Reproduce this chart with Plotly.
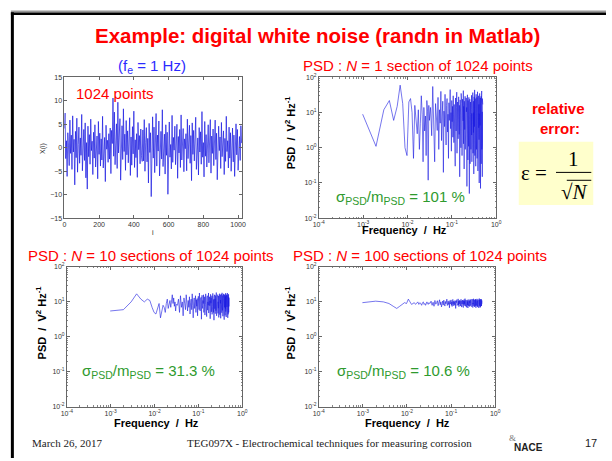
import plotly.graph_objects as go

# ---------------- data ----------------
x_step = 4
x_series = [
    4.1, 7.4, -2.3, 1.5, -6.1, 3.2, 0.4, -3.8, 5.9, -1.2, 2.7, -4.6, 6.8, -0.9, 1.8, -7.9,
    3.5, -2.1, 6.3, -5.2, 0.7, 4.4, -3.3, 2.1, -1.6, 7.1, -4.9, 0.2, 3.9, -2.7, 5.3, -6.4,
    1.1, -8.8, 4.6, -1.9, 2.8, -3.5, 6.1, -0.6, 1.4, -5.7, 3.3, -2.2, 4.9, -4.1, 0.8, 2.5,
    -6.6, 5.6, -1.4, 3.1, -3.9, 1.9, -2.6, 6.7, -4.3, 0.5, 2.2, -7.2, 4.8, -0.3, 1.6, -3.1,
    3.0, -2.4, 4.2, -5.5, 3.7, 0.9, 10.6, -1.8, 7.6, -3.6, 2.4, 5.1, -4.4, 9.7, -1.1, 3.4,
    6.2, -6.9, 1.3, 4.7, -2.5, 8.3, -0.8, 2.9, -4.8, 5.8, -1.5, 3.6, -3.2, 0.6, 6.4, -5.9,
    2.3, -3.7, 4.5, -1.3, 7.8, -4.2, 1.7, -2.1, 3.0, -6.3, 5.4, -0.4, 2.6, -3.4, 4.0, -1.7,
    -2.9, 3.8, -2.8, 6.0, -5.0, 1.2, 4.3, -3.0, 2.0, -7.5, 5.2, -1.0, 3.2, -10.4, 0.3, 6.6,
    -2.2, 4.4, -5.3, 1.0, 7.3, -3.9, 2.7, -0.7, 5.7, -6.0, 1.5, 3.5, -2.4, 8.1, -4.0, 0.1,
    2.9, -5.6, 4.9, -1.6, 3.3, -9.9, 1.8, 5.5, -2.0, 0.7, -4.5, 6.9, -3.1, 2.2, -0.5, 4.6,
    -3.6, 1.4, 5.0, -6.5, 2.4, -1.1, 3.9, -4.2, 7.0, -2.6, 0.9, 4.1, -5.1, 1.9, -0.2, 3.0,
    -4.9, 6.1, -2.3, 0.6, 4.8, -3.3, 2.6, -7.0, 5.3, -1.4, 3.7, -2.8, 1.3, 6.5, -4.6, 0.4,
    2.1, -5.8, 4.3, -0.9, 3.4, -3.5, 7.7, -2.0, 1.1, -6.2, 5.6, -1.8, 2.8, -4.1, 0.8, 4.9,
    -3.2, 1.6, 6.0, -5.4, 2.5, -1.2, 4.0, -3.8, 0.2, 5.9, -2.5, 3.1, -6.8, 1.7, 4.6, -0.6,
    2.3, -4.4, 5.4, -1.9, 0.9, 3.6, -5.7, 2.0, -2.9, 6.7, -0.8, 1.5, -4.3, 4.4, -2.2, 3.2,
    -5.0, 0.5, 4.2, -3.0, 2.7, -6.1, 1.2, 5.1, -1.5, 3.9, -4.8, 0.7, 2.4, -2.7, 4.7, 1.0,
]

n_points = 1024
psd_n1 = [
    9, 1.1, 12, 22, 6, 15, 60, 18, 1.0, 0.6, 20, 25, 10, 0.5, 16, 5,
    2.5, 12, 0.9, 5, 30, 9, 0.4, 14, 3, 8, 0.6, 22, 11, 0.12, 16, 6,
    14, 2.2, 55, 6, 0.4, 18, 9, 3.1, 27, 0.9, 12, 5, 40, 1.6, 8, 21, 0.2, 11,
    4, 33, 7, 1.2, 16, 25, 2.8, 9, 0.5, 19, 6, 13, 45, 3.5, 10, 0.8, 22, 5.5,
    15, 2, 30, 8, 1.4, 17, 4.5, 11, 0.3, 26, 7, 3, 14, 38, 0.7, 9, 20, 5,
    1.8, 12, 28, 6.5, 2.4, 16, 0.15, 10, 23, 4, 8.5, 1, 35, 13, 3.8, 18, 0.6, 7.5,
    24, 2.6, 11, 5.8, 42, 1.3, 15, 9.5, 0.25, 21, 6.8, 3.3, 12.5, 29, 0.9, 8, 17, 4.2,
    1.6, 26, 10.5, 2.1, 14, 0.08, 19, 7.2, 32, 3.6, 11.5, 0.45, 22, 5.2, 16.5, 1.1, 9, 27,
    2.9, 13, 0.05, 18, 6.2, 24, 3.9, 0.35, 15, 8.8, 20, 1.9,
    7, 0.9, 19, 4.4, 12, 31, 2.3, 9.5, 0.4, 16, 6, 24, 1.5, 11, 3.2, 37, 8, 0.7, 14, 5,
    21, 2.7, 10, 0.18, 17, 6.5, 28, 1.2, 13, 4, 44, 8.5, 0.6, 19, 3.4, 11, 25, 1.9, 7, 15,
    0.3, 22, 5.6, 9, 33, 2.2, 12, 0.9, 18, 6.3, 3, 27, 10, 0.5, 16, 4.8, 13, 39, 1.4, 8.2,
    20, 0.22, 11, 5.1, 24, 2.5, 14.5, 7.8, 0.8, 30, 3.7, 12, 17, 1.7, 9.3, 0.1, 23, 6, 15, 2,
    35, 8.6, 0.45, 13, 4.3, 19, 10, 1.1, 26, 5.4, 0.07, 16, 7.3, 22, 3.1, 11, 29, 1.6, 9, 0.35,
    18, 6.7, 14, 2.4, 41, 8, 0.9, 12, 4.6, 20, 1.3, 10.5, 0.15, 25, 5.9, 15.5, 3.3, 0.6, 17,
]
psd_n10 = [
    5.5, 6, 10, 17, 12, 10, 12, 11, 7, 5, 4.5, 7, 9, 3.5, 6, 8,
    7, 5, 9, 12, 6.5, 8, 11, 7, 12, 16, 9, 13, 7.5, 10, 5.5, 8.5,
    8, 12, 5, 15, 7, 10, 4, 13, 9, 6, 16, 8.5, 5.5, 11, 7, 14, 4.5, 9.5,
    12, 6, 17, 8, 3.5, 10.5, 13, 6.5, 9, 15, 5, 11.5, 7.5, 12.5, 4, 10, 14.5, 8,
    6, 18, 9, 5.5, 12, 7, 13.5, 3.2, 10, 15.5, 8, 6.5, 11, 9, 16, 5, 12, 7.5,
    14, 4.2, 10.5, 8.5, 17, 6, 11, 9.5, 3.8, 13, 7, 15, 5.8, 10, 12.5, 8, 18, 4.8,
    11.5, 9, 6.2, 14, 7.8, 10.8, 3.3, 12, 16.5, 6.8, 9.2, 13.2, 5.2, 11, 8.2, 15, 4.4, 10.2,
    12.8, 7.2, 17.5, 6, 9.8, 14.2, 5, 11.8, 8.8, 3, 13.8, 7, 10.4, 16, 6.4, 12.2, 9, 4.6,
    15.2, 8, 11.2, 5.6, 13.4, 7.4, 18.5, 9.6, 4, 12.6, 8.4, 10,
    9.4, 13, 5.3, 11.6, 7.9, 16.2, 4.7, 10.1, 12.9, 6.6, 14.8, 8.3, 3.6, 11.9, 9.7, 15.6, 5.9, 12.4, 7.1, 17.2,
    8.9, 4.3, 13.6, 10.6, 6.3, 15.9, 9.1, 11.3, 3.4, 14.1, 7.7, 12.7, 5.1, 16.8, 8.6, 10.9, 6.9, 13.3, 4.9, 11.4,
    18.2, 7.3, 9.9, 14.6, 5.7, 12.1, 8.1, 15.3, 3.9, 10.7, 13.9, 6.1, 11.7, 9.3, 17, 4.5, 12.3, 8.7, 14.9, 6.7,
    10.3, 3.1, 15.8, 9.2, 11.1, 7, 13.1, 5.4, 16.4, 8.4, 12, 4.1, 10.8, 14.4, 6.4, 11.5, 9.6, 17.8, 5.3, 12.9,
    7.6, 10, 15.1, 3.7, 13.7, 8.9, 11, 6, 16.1, 9.4, 4.8, 12.5, 7.2, 14.7, 10.4, 5.5, 13.2, 8.5, 18, 6.6,
    11.3, 9, 3.5, 15.4, 7.9, 12.2, 10.1, 4.4, 14.3, 8.3, 11.7, 6.2, 16.6, 9.8, 5, 13.5, 7.4, 10.6, 12.8,
]
psd_n100 = [
    9.5, 10.5, 10, 9, 7.5, 6.5, 7.5, 8.5, 9.5, 9, 12, 10, 8.5, 9, 9.5, 8.5,
    9, 10, 8.5, 9.5, 9, 8, 9.5, 10, 8.5, 9, 8, 9.5, 10, 9, 8.5, 9.5,
    9, 10.5, 8, 9.8, 7.5, 11, 8.6, 9.4, 10.8, 7.8, 9.2, 11.5, 8.3, 10, 7.2, 9.6, 10.6, 8.1,
    11.2, 9, 7.6, 10.3, 8.8, 9.9, 12, 7.9, 9.3, 10.7, 8.4, 9.7, 6.8, 10.9, 8.7, 9.5, 11.4, 8,
    10.1, 7.4, 9.1, 11.8, 8.5, 10.4, 7.7, 9.8, 10.2, 8.2, 11, 9.4, 6.5, 10.6, 8.9, 9.6, 11.6, 7.9,
    10, 8.6, 9.2, 12.2, 8.1, 10.5, 7.3, 9.7, 11.1, 8.8, 9.3, 10.8, 7.6, 10.3, 9, 11.9, 8.3, 9.9,
    7.1, 10.7, 8.7, 9.5, 11.3, 8, 10.1, 9.4, 6.9, 10.9, 8.5, 9.8, 11.7, 7.8, 10.4, 8.9, 9.1, 12.4,
    8.2, 10.2, 7.5, 9.6, 11.2, 8.6, 10, 9.3, 7, 10.6, 8.4, 9.7, 11.5, 8.1, 10.3, 9.2, 6.7, 11,
    8.8, 9.9, 10.5, 7.7, 9.4, 11.8, 8.3, 10.1, 9, 7.4, 10.8, 9.5,
    9.2, 10.7, 8.4, 11.3, 7.8, 9.9, 10.4, 8.7, 12.1, 9.5, 7.3, 10.2, 8.9, 11.6, 9.1, 7.9, 10.8, 8.5, 9.7, 11.9,
    8.2, 10.3, 6.9, 9.4, 11.1, 8.6, 10, 9.3, 12.3, 8, 10.6, 7.6, 9.8, 11.4, 8.8, 10.1, 9, 7.2, 10.9, 8.3,
    11.7, 9.6, 8.1, 10.5, 7.7, 9.2, 12, 8.7, 10.2, 9.4, 6.8, 11.2, 8.5, 9.9, 10.7, 7.9, 11.5, 9.1, 8.4, 10.4,
    12.2, 8.9, 9.6, 7.5, 10.8, 8.2, 11, 9.3, 7.1, 10.1, 8.8, 11.8, 9.7, 8, 10.6, 7.4, 9.5, 11.3, 8.6, 10.3,
    9, 6.7, 11.1, 8.3, 10, 9.8, 12.5, 7.8, 10.5, 8.7, 9.2, 11.6, 8.1, 10.9, 7.3, 9.4, 11.4, 8.5, 10.2, 9.1,
    7, 10.7, 8.9, 12.1, 9.6, 8.2, 11.2, 7.7, 10.4, 9.3, 8.6, 11.9, 9, 7.6, 10.8, 8.4, 9.9, 11, 8.8,
]

time_ticks = [0, 200, 400, 600, 800, 1000]
time_yticks = [-15, -10, -5, 0, 5, 10, 15]
freq_ticks = [1e-4, 1e-3, 1e-2, 1e-1, 1]
freq_ticklabels = ['10<sup>-4</sup>', '10<sup>-3</sup>', '10<sup>-2</sup>', '10<sup>-1</sup>', '10<sup>0</sup>']
psd_ticks = [1e-2, 1e-1, 1, 10, 100]
psd_ticklabels = ['10<sup>-2</sup>', '10<sup>-1</sup>', '10<sup>0</sup>', '10<sup>1</sup>', '10<sup>2</sup>']


def freq_grid(vals):
    ks = list(range(1, 33)) + [34 + 2 * j for j in range(len(vals) - 32)]
    return [k / n_points for k in ks]


# ---------------- figure ----------------
W, H = 612, 461


def px(x):
    return x / W


def py(y):
    return 1 - y / H


LINE = 'rgb(25,25,225)'
fig = go.Figure()
fig.add_trace(go.Scatter(x=[i * x_step for i in range(len(x_series))], y=x_series,
                         mode='lines', line=dict(color=LINE, width=0.7),
                         xaxis='x', yaxis='y', showlegend=False))
for psd, ax in [(psd_n1, '2'), (psd_n10, '3'), (psd_n100, '4')]:
    fig.add_trace(go.Scatter(x=freq_grid(psd), y=psd, mode='lines',
                             line=dict(color=LINE, width=0.6),
                             xaxis='x' + ax, yaxis='y' + ax, showlegend=False))

base = dict(showline=True, linecolor='#666', linewidth=0.6, mirror='ticks',
            ticks='inside', ticklen=3, tickcolor='#666', showgrid=False,
            zeroline=False, tickfont=dict(family='Arial', size=7, color='#333'))
minor = dict(ticks='inside', ticklen=1.5, tickcolor='#888', dtick='D1')


def logx(dom, anchor):
    return dict(base, type='log', range=[-4, 0], tickvals=freq_ticks, ticktext=freq_ticklabels,
                domain=dom, anchor=anchor, minor=minor)


def logy(dom, anchor):
    return dict(base, type='log', range=[-2, 2], tickvals=psd_ticks, ticktext=psd_ticklabels,
                domain=dom, anchor=anchor, minor=minor)


row1 = [py(217.5), py(74.5)]
row2 = [py(409), py(267)]

fig.update_layout(
    width=W, height=H, margin=dict(l=0, r=0, t=0, b=0),
    paper_bgcolor='white', plot_bgcolor='white',
    xaxis=dict(base, domain=[px(59.5), px(241)], range=[0, 1024], tickvals=time_ticks, anchor='y'),
    yaxis=dict(base, domain=row1, range=[-15, 15], tickvals=time_yticks, anchor='x'),
    xaxis2=logx([px(319), px(500)], 'y2'), yaxis2=logy(row1, 'x2'),
    xaxis3=logx([px(62), px(241)], 'y3'), yaxis3=logy(row2, 'x3'),
    xaxis4=logx([px(319), px(499)], 'y4'), yaxis4=logy(row2, 'x4'),
)

anns = []


def txt(x, y, s, size, color='black', family='Arial', bold=False, angle=0, xanchor='center'):
    if bold:
        s = '<b>' + s + '</b>'
    anns.append(dict(x=px(x), y=py(y), xref='paper', yref='paper', text=s, showarrow=False,
                     font=dict(family=family, size=size, color=color), textangle=angle,
                     xanchor=xanchor, yanchor='middle'))


RED = '#FF0000'
GREEN = '#2E9A2E'
BLUE = '#2B2BFF'
txt(318, 32, 'Example: digital white noise (randn in Matlab)', 20.5, RED, bold=True)
txt(149, 63, '(f<sub>e</sub> = 1 Hz)', 15, BLUE)
txt(111, 91, '1024 points', 15, RED)
txt(420, 62, 'PSD : <i>N</i> = 1 section of 1024 points', 15, RED)
txt(148, 255, 'PSD : <i>N</i> = 10 sections of 1024 points', 15, RED)
txt(422, 255, 'PSD : <i>N</i> = 100 sections of 1024 points', 15, RED)
txt(402, 196, 'σ<sub>PSD</sub>/m<sub>PSD</sub> = 101 %', 15, GREEN)
txt(145, 373, 'σ<sub>PSD</sub>/m<sub>PSD</sub> = 31.3 %', 15, GREEN)
txt(405, 373, 'σ<sub>PSD</sub>/m<sub>PSD</sub> = 10.6 %', 15, GREEN)
# axis labels
txt(38, 147, 'X(i)', 7, '#222', angle=-90)
txt(150, 232, 'i', 7, '#222')
for (x, y) in [(290, 130), (36, 323), (290, 323)]:
    txt(x, y, 'PSD  /  V<sup>2</sup> Hz<sup>-1</sup>', 11, 'black', bold=True, angle=-90)
for (x, y) in [(406, 229), (154, 425), (410, 425)]:
    txt(x, y, 'Frequency  /  Hz', 11, 'black', bold=True)
# relative error box
txt(564, 106, 'relative', 15, RED, bold=True)
txt(565, 126, 'error:', 15, RED, bold=True)
txt(539, 172, 'ε =', 21, 'black', family='Liberation Serif')
txt(579, 157, '1', 21, 'black', family='Liberation Serif')
txt(580, 191, '√<i>N</i>', 21, 'black', family='Liberation Serif')
# footer
txt(62, 446, 'March 26, 2017', 11, '#222', family='Liberation Serif')
txt(330, 446, 'TEG097X - Electrochemical techniques for measuring corrosion', 11, '#222',
    family='Liberation Serif')
txt(533, 450, 'NACE', 10, '#222', bold=True)
txt(517, 441, '&', 9, '#777', family='Liberation Serif')
txt(597, 446, '17', 11, '#222')

shapes = [
    dict(type='line', xref='paper', yref='paper', x0=px(5), x1=1, y0=py(7.5), y1=py(7.5),
         line=dict(color='#999', width=2)),
    dict(type='line', xref='paper', yref='paper', x0=px(5), x1=1, y0=py(10), y1=py(10),
         line=dict(color='black', width=2.5)),
    dict(type='line', xref='paper', yref='paper', x0=px(6.5), x1=px(6.5), y0=py(8.5), y1=0,
         line=dict(color='black', width=3)),
    dict(type='rect', xref='paper', yref='paper', x0=px(523), x1=px(599), y0=py(204), y1=py(140),
         fillcolor='#FFFFCC', line=dict(width=0), layer='below'),
    dict(type='line', xref='paper', yref='paper', x0=px(561), x1=px(597), y0=py(171), y1=py(171),
         line=dict(color='black', width=1)),
    dict(type='line', xref='paper', yref='paper', x0=px(572), x1=px(597), y0=py(179), y1=py(179),
         line=dict(color='black', width=1)),
]
fig.update_layout(annotations=anns, shapes=shapes)
fig.write_html('out.html', config={'displayModeBar': False})

# remove default page margins so the 612x461 figure fills the window exactly
with open('out.html', encoding='utf-8') as f:
    page = f.read()
page = page.replace('<head>', '<head><style>html,body{margin:0;padding:0;overflow:hidden;}</style>', 1)
with open('out.html', 'w', encoding='utf-8') as f:
    f.write(page)
